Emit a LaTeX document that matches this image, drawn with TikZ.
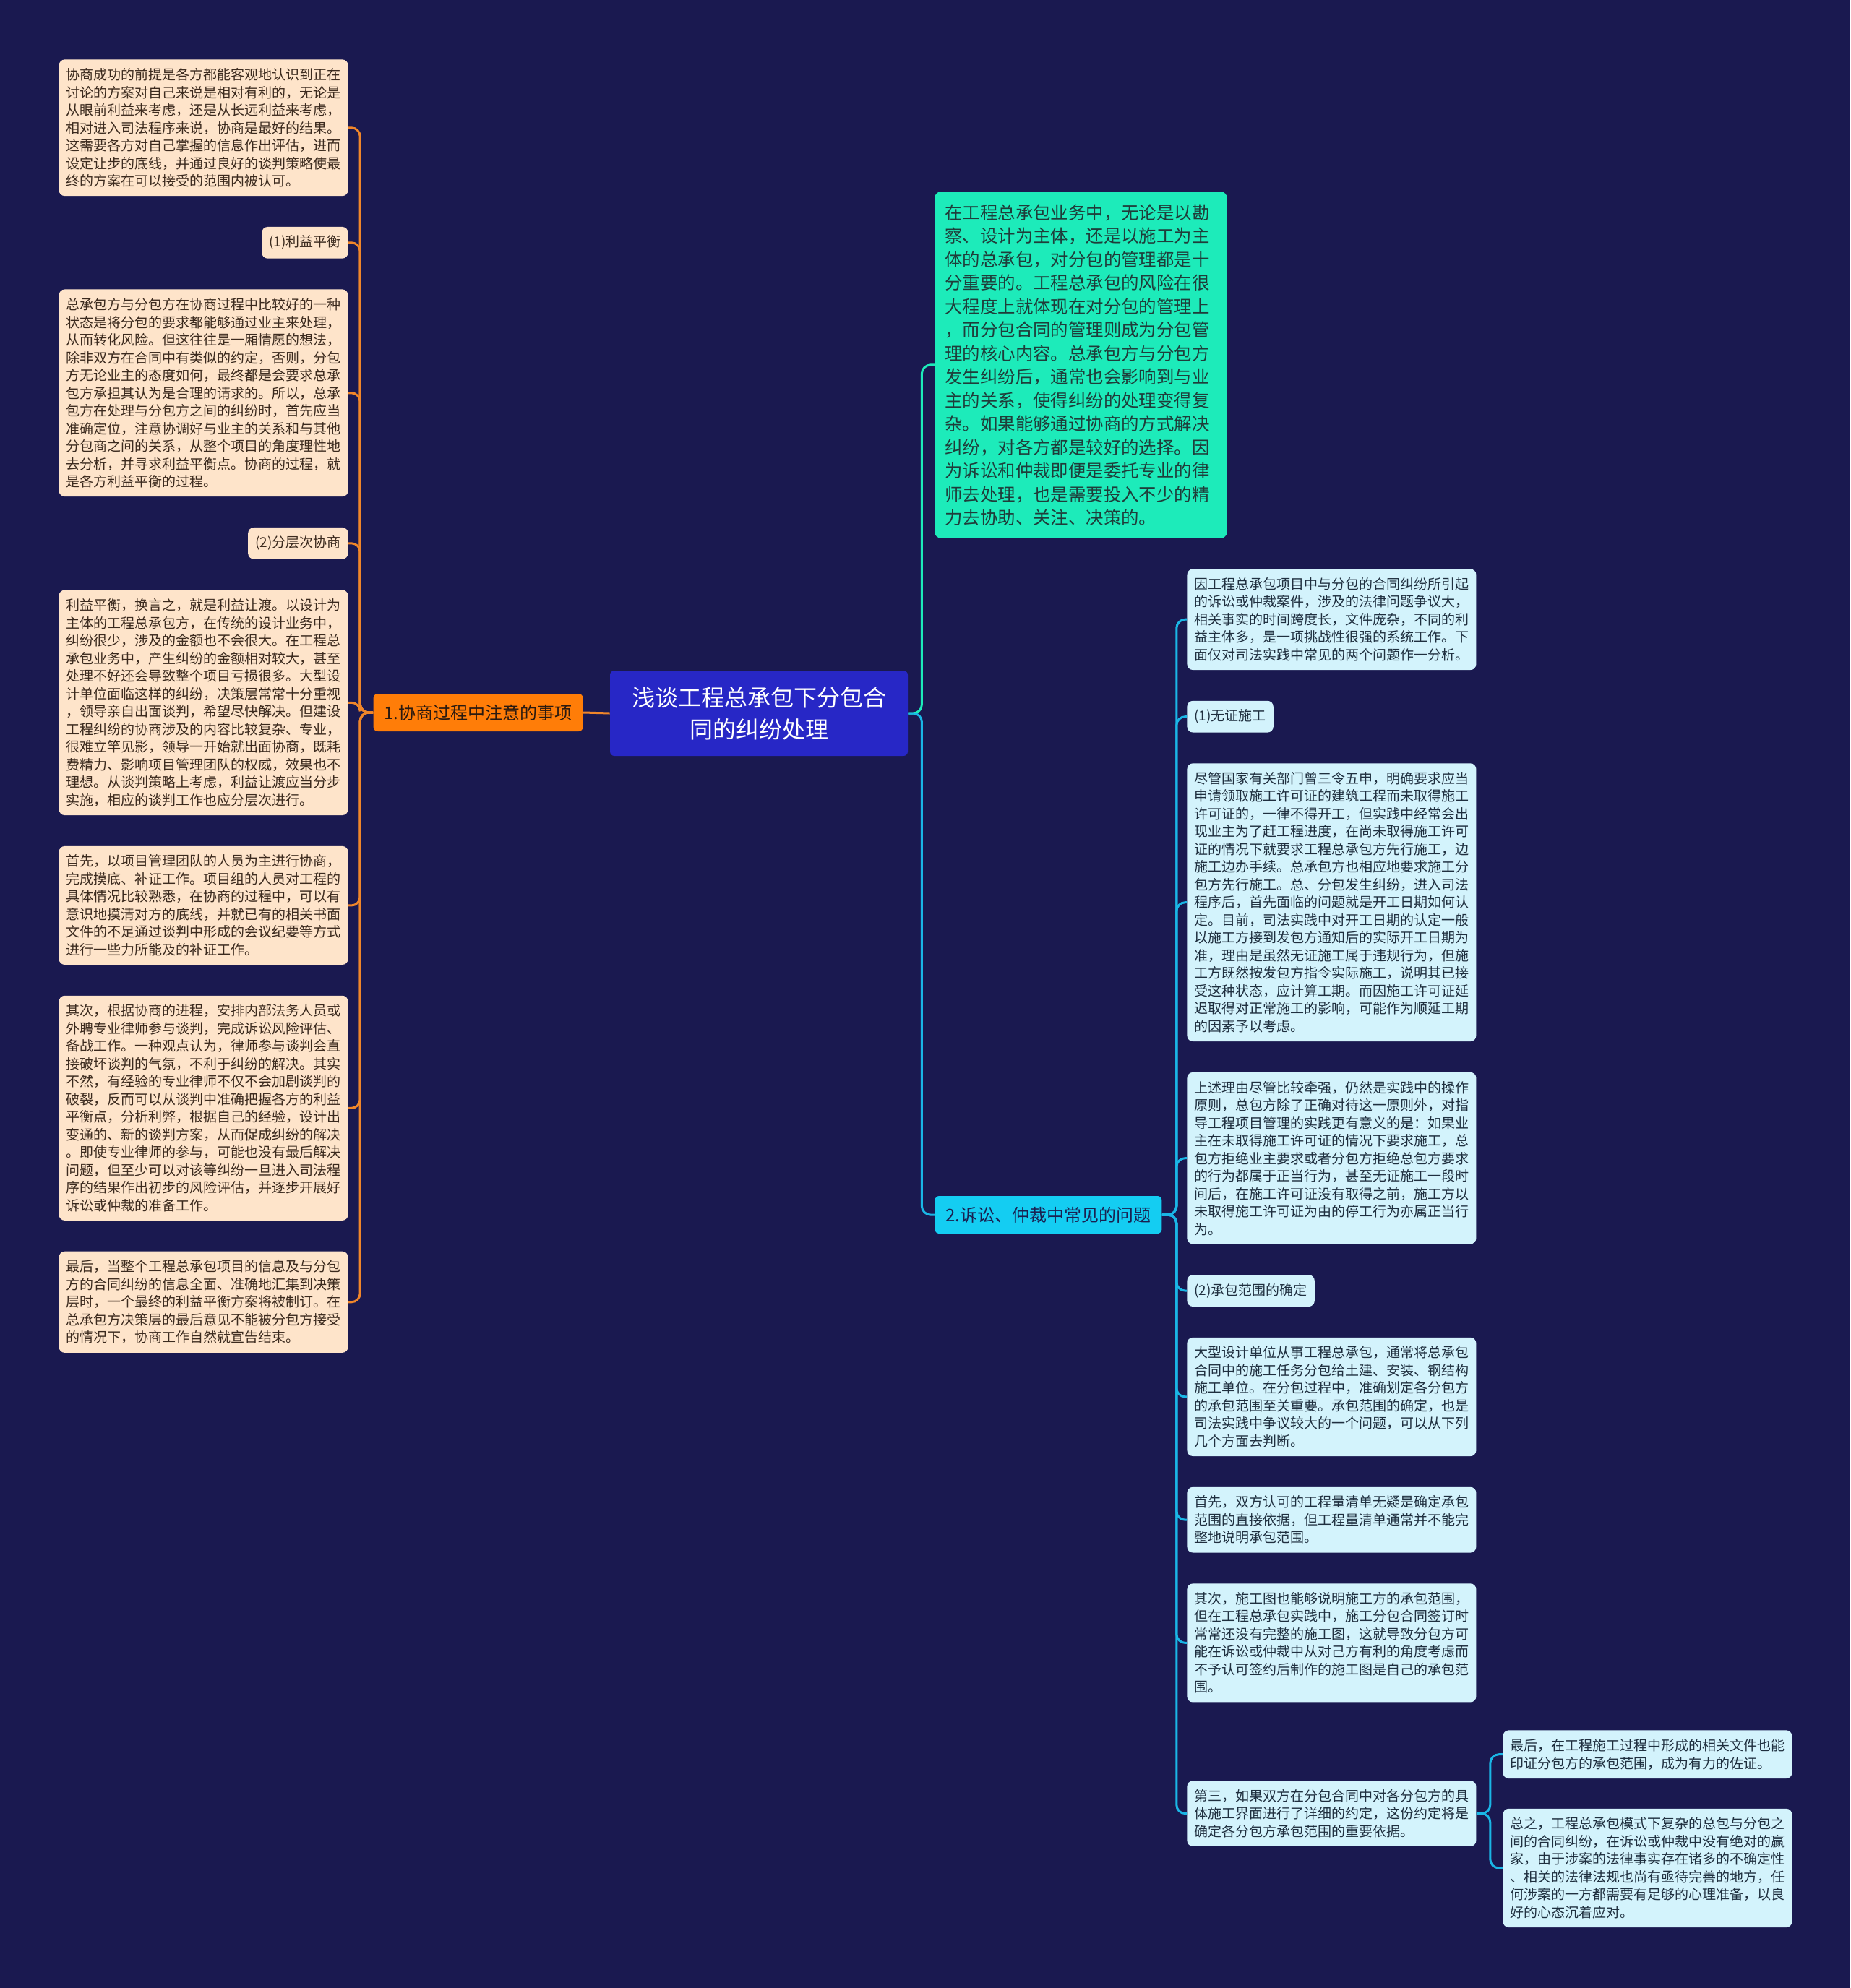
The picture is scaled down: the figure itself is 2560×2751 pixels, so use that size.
\documentclass[tikz,border=0pt]{standalone}
\usepackage{fontspec}
\setmainfont{Noto Sans CJK SC}
\usetikzlibrary{positioning}
\definecolor{bgnavy}{HTML}{1A1950}
\definecolor{rootblue}{HTML}{2727C6}
\definecolor{orangeone}{HTML}{FF7D08}
\definecolor{onetext}{HTML}{2A1A10}
\definecolor{cyantwo}{HTML}{14CDF2}
\definecolor{twotext}{HTML}{1A2050}
\definecolor{aquanote}{HTML}{1DEBBA}
\definecolor{aquatext}{HTML}{1F3D3A}
\definecolor{peachnote}{HTML}{FEE4CA}
\definecolor{peachtext}{HTML}{3B2A1E}
\definecolor{icenote}{HTML}{D3F3FC}
\definecolor{icetext}{HTML}{1F2F3F}
\definecolor{orangelink}{HTML}{F0862A}
\definecolor{cyanlink}{HTML}{1AB6E6}
\begin{document}
\begin{tikzpicture}[x=0.5pt,y=-0.5pt,
rootnode/.style={fill=rootblue, text=white, rounded corners=3pt, align=center,
  minimum width=206pt, minimum height=59pt, font=\fontsize{16pt}{22pt}\selectfont},
branchone/.style={fill=orangeone, text=onetext, rounded corners=3pt, inner xsep=7.5pt,
  minimum height=26pt, font=\fontsize{12pt}{14pt}\selectfont},
branchtwo/.style={branchone, fill=cyantwo, text=twotext},
topnote/.style={fill=aquanote, text=aquatext, rounded corners=4pt, align=left,
  text width=188pt, inner xsep=7pt, inner ysep=8.5pt, font=\fontsize{12.2pt}{16.25pt}\selectfont},
leftnote/.style={fill=peachnote, text=peachtext, rounded corners=4pt, align=left,
  inner xsep=5pt, inner ysep=6pt, font=\fontsize{9.5pt}{12.25pt}\selectfont},
leftwide/.style={leftnote, text width=190pt},
rightnote/.style={leftnote, fill=icenote, text=icetext},
rightwide/.style={rightnote, text width=190pt},
leftlink/.style={draw=orangelink, line width=1.5pt, rounded corners=6pt},
rightlink/.style={draw=cyanlink, line width=1.5pt, rounded corners=6pt},
]
\useasboundingbox (0,0) rectangle (2560,2751);
\fill[bgnavy] (0,0) rectangle (2560,2751);

% centre and main branches
\node[rootnode] (root) at (1050,987) {浅谈工程总承包下分包合\\同的纠纷处理};
\node[branchone, anchor=east] (neg) at (807,986) {1.协商过程中注意的事项};
\node[branchtwo, anchor=west] (law) at (1293,1681) {2.诉讼、仲裁中常见的问题};
\node[topnote, anchor=north west] (intro) at (1293,265) {在工程总承包业务中，无论是以勘\\
察、设计为主体，还是以施工为主\\
体的总承包，对分包的管理都是十\\
分重要的。工程总承包的风险在很\\
大程度上就体现在对分包的管理上\\
，而分包合同的管理则成为分包管\\
理的核心内容。总承包方与分包方\\
发生纠纷后，通常也会影响到与业\\
主的关系，使得纠纷的处理变得复\\
杂。如果能够通过协商的方式解决\\
纠纷，对各方都是较好的选择。因\\
为诉讼和仲裁即便是委托专业的律\\
师去处理，也是需要投入不少的精\\
力去协助、关注、决策的。};

% left side
\node[leftwide, anchor=north east] (negA) at (482,82) {协商成功的前提是各方都能客观地认识到正在\\
讨论的方案对自己来说是相对有利的，无论是\\
从眼前利益来考虑，还是从长远利益来考虑，\\
相对进入司法程序来说，协商是最好的结果。\\
这需要各方对自己掌握的信息作出评估，进而\\
设定让步的底线，并通过良好的谈判策略使最\\
终的方案在可以接受的范围内被认可。};
\node[leftnote, below=21pt of negA.south east, anchor=north east] (negB) {(1)利益平衡};
\node[leftwide, below=21pt of negB.south east, anchor=north east] (negC) {总承包方与分包方在协商过程中比较好的一种\\
状态是将分包的要求都能够通过业主来处理，\\
从而转化风险。但这往往是一厢情愿的想法，\\
除非双方在合同中有类似的约定，否则，分包\\
方无论业主的态度如何，最终都是会要求总承\\
包方承担其认为是合理的请求的。所以，总承\\
包方在处理与分包方之间的纠纷时，首先应当\\
准确定位，注意协调好与业主的关系和与其他\\
分包商之间的关系，从整个项目的角度理性地\\
去分析，并寻求利益平衡点。协商的过程，就\\
是各方利益平衡的过程。};
\node[leftnote, below=21pt of negC.south east, anchor=north east] (negD) {(2)分层次协商};
\node[leftwide, below=21pt of negD.south east, anchor=north east] (negE) {利益平衡，换言之，就是利益让渡。以设计为\\
主体的工程总承包方，在传统的设计业务中，\\
纠纷很少，涉及的金额也不会很大。在工程总\\
承包业务中，产生纠纷的金额相对较大，甚至\\
处理不好还会导致整个项目亏损很多。大型设\\
计单位面临这样的纠纷，决策层常常十分重视\\
，领导亲自出面谈判，希望尽快解决。但建设\\
工程纠纷的协商涉及的内容比较复杂、专业，\\
很难立竿见影，领导一开始就出面协商，既耗\\
费精力、影响项目管理团队的权威，效果也不\\
理想。从谈判策略上考虑，利益让渡应当分步\\
实施，相应的谈判工作也应分层次进行。};
\node[leftwide, below=21pt of negE.south east, anchor=north east] (negF) {首先，以项目管理团队的人员为主进行协商，\\
完成摸底、补证工作。项目组的人员对工程的\\
具体情况比较熟悉，在协商的过程中，可以有\\
意识地摸清对方的底线，并就已有的相关书面\\
文件的不足通过谈判中形成的会议纪要等方式\\
进行一些力所能及的补证工作。};
\node[leftwide, below=21pt of negF.south east, anchor=north east] (negG) {其次，根据协商的进程，安排内部法务人员或\\
外聘专业律师参与谈判，完成诉讼风险评估、\\
备战工作。一种观点认为，律师参与谈判会直\\
接破坏谈判的气氛，不利于纠纷的解决。其实\\
不然，有经验的专业律师不仅不会加剧谈判的\\
破裂，反而可以从谈判中准确把握各方的利益\\
平衡点，分析利弊，根据自己的经验，设计出\\
变通的、新的谈判方案，从而促成纠纷的解决\\
。即使专业律师的参与，可能也没有最后解决\\
问题，但至少可以对该等纠纷一旦进入司法程\\
序的结果作出初步的风险评估，并逐步开展好\\
诉讼或仲裁的准备工作。};
\node[leftwide, below=21pt of negG.south east, anchor=north east] (negH) {最后，当整个工程总承包项目的信息及与分包\\
方的合同纠纷的信息全面、准确地汇集到决策\\
层时，一个最终的利益平衡方案将被制订。在\\
总承包方决策层的最后意见不能被分包方接受\\
的情况下，协商工作自然就宣告结束。};

% right side
\node[rightwide, anchor=north west] (lawA) at (1642,787) {因工程总承包项目中与分包的合同纠纷所引起\\
的诉讼或仲裁案件，涉及的法律问题争议大，\\
相关事实的时间跨度长，文件庞杂，不同的利\\
益主体多，是一项挑战性很强的系统工作。下\\
面仅对司法实践中常见的两个问题作一分析。};
\node[rightnote, below=21pt of lawA.south west, anchor=north west] (lawB) {(1)无证施工};
\node[rightwide, below=21pt of lawB.south west, anchor=north west] (lawC) {尽管国家有关部门曾三令五申，明确要求应当\\
申请领取施工许可证的建筑工程而未取得施工\\
许可证的，一律不得开工，但实践中经常会出\\
现业主为了赶工程进度，在尚未取得施工许可\\
证的情况下就要求工程总承包方先行施工，边\\
施工边办手续。总承包方也相应地要求施工分\\
包方先行施工。总、分包发生纠纷，进入司法\\
程序后，首先面临的问题就是开工日期如何认\\
定。目前，司法实践中对开工日期的认定一般\\
以施工方接到发包方通知后的实际开工日期为\\
准，理由是虽然无证施工属于违规行为，但施\\
工方既然按发包方指令实际施工，说明其已接\\
受这种状态，应计算工期。而因施工许可证延\\
迟取得对正常施工的影响，可能作为顺延工期\\
的因素予以考虑。};
\node[rightwide, below=21pt of lawC.south west, anchor=north west] (lawD) {上述理由尽管比较牵强，仍然是实践中的操作\\
原则，总包方除了正确对待这一原则外，对指\\
导工程项目管理的实践更有意义的是：如果业\\
主在未取得施工许可证的情况下要求施工，总\\
包方拒绝业主要求或者分包方拒绝总包方要求\\
的行为都属于正当行为，甚至无证施工一段时\\
间后，在施工许可证没有取得之前，施工方以\\
未取得施工许可证为由的停工行为亦属正当行\\
为。};
\node[rightnote, below=21pt of lawD.south west, anchor=north west] (lawE) {(2)承包范围的确定};
\node[rightwide, below=21pt of lawE.south west, anchor=north west] (lawF) {大型设计单位从事工程总承包，通常将总承包\\
合同中的施工任务分包给土建、安装、钢结构\\
施工单位。在分包过程中，准确划定各分包方\\
的承包范围至关重要。承包范围的确定，也是\\
司法实践中争议较大的一个问题，可以从下列\\
几个方面去判断。};
\node[rightwide, below=21pt of lawF.south west, anchor=north west] (lawG) {首先，双方认可的工程量清单无疑是确定承包\\
范围的直接依据，但工程量清单通常并不能完\\
整地说明承包范围。};
\node[rightwide, below=21pt of lawG.south west, anchor=north west] (lawH) {其次，施工图也能够说明施工方的承包范围，\\
但在工程总承包实践中，施工分包合同签订时\\
常常还没有完整的施工图，这就导致分包方可\\
能在诉讼或仲裁中从对己方有利的角度考虑而\\
不予认可签约后制作的施工图是自己的承包范\\
围。};
\node[rightwide, below=54pt of lawH.south west, anchor=north west] (lawI) {第三，如果双方在分包合同中对各分包方的具\\
体施工界面进行了详细的约定，这份约定将是\\
确定各分包方承包范围的重要依据。};
\node[rightwide, anchor=north west] (lawJ) at (2079,2394) {最后，在工程施工过程中形成的相关文件也能\\
印证分包方的承包范围，成为有力的佐证。};
\node[rightwide, below=20.5pt of lawJ.south west, anchor=north west] (lawK) {总之，工程总承包模式下复杂的总包与分包之\\
间的合同纠纷，在诉讼或仲裁中没有绝对的赢\\
家，由于涉案的法律事实存在诸多的不确定性\\
、相关的法律法规也尚有亟待完善的地方，任\\
何涉案的一方都需要有足够的心理准备，以良\\
好的心态沉着应对。};

% connectors
\draw[leftlink] (root.west) -- (neg.east);
\foreach \n in {negA,negB,negC,negD,negE,negF,negG,negH}
  \draw[leftlink] (neg.west) -- ++(-9pt,0) |- (\n.east);
\draw[rightlink, draw=aquanote] (root.east) -- ++(9.5pt,0) |- (intro.west);
\draw[rightlink] (root.east) -- ++(9.5pt,0) |- (law.west);
\foreach \n in {lawA,lawB,lawC,lawD,lawE,lawF,lawG,lawH,lawI}
  \draw[rightlink] (law.east) -- ++(10pt,0) |- (\n.west);
\foreach \n in {lawJ,lawK}
  \draw[rightlink] (lawI.east) -- ++(9.5pt,0) |- (\n.west);
\end{tikzpicture}
\end{document}
